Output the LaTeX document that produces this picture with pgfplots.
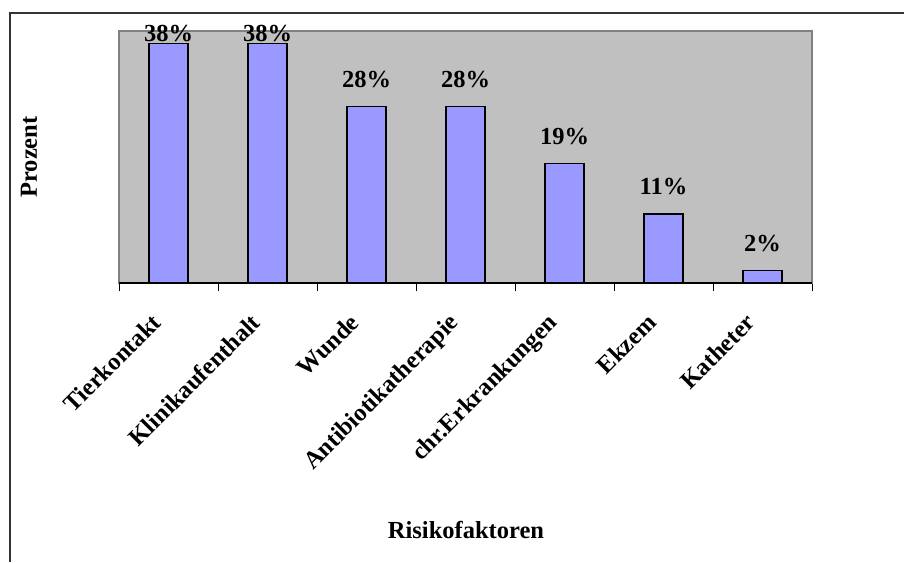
\documentclass[border=0pt]{standalone}
\usepackage{fontspec}
\setmainfont{Liberation Serif}
\usepackage{pgfplots}
\pgfplotsset{compat=1.18}
\definecolor{plotgray}{HTML}{C0C0C0}
\definecolor{bordergray}{HTML}{808080}
\definecolor{barblue}{HTML}{9999FF}
\newcommand{\chartfont}{\fontsize{24.5}{29}\selectfont\bfseries}

\begin{document}
\begin{tikzpicture}[x=1pt,y=1pt]
\useasboundingbox (0,0) rectangle (904,562);
\draw[line width=1.5pt, black!80] (10,0) -- (10,549) -- (904,549);
\begin{axis}[
  at={(119pt,279pt)}, anchor=south west,
  scale only axis, width=693pt, height=252pt,
  xmin=-0.5, xmax=6.5, ymin=0, ymax=40,
  axis background/.style={fill=plotgray},
  axis line style={draw=bordergray, line width=1.5pt},
  ytick=\empty,
  xtick={0,...,6},
  xticklabels={Tierkontakt,Klinikaufenthalt,Wunde,Antibiotikatherapie,chr.Erkrankungen,Ekzem,Katheter},
  minor xtick={-0.5,0.5,...,6.5},
  xtick pos=bottom, tick align=outside,
  major tick length=0pt, minor tick length=8pt,
  minor tick style={black, line width=1pt},
  xticklabel style={font=\chartfont, anchor=north east, inner sep=0pt, xshift=-18pt, yshift=-29pt, rotate=45},
  ybar, bar width=38.5pt,
  /pgf/number format/assume math mode=true,
  nodes near coords={\pgfmathprintnumber{\pgfplotspointmeta}\%},
  every node near coord/.append style={font=\chartfont, anchor=base, inner sep=0pt, text=black},
  clip=false,
]
\addplot[ybar, bar shift=0pt, fill=barblue, draw=black, line width=1.6pt,
  every node near coord/.append style={yshift=2pt}]
  coordinates {(0,38) (1,38)};
\addplot[ybar, bar shift=0pt, fill=barblue, draw=black, line width=1.6pt,
  every node near coord/.append style={yshift=19pt}]
  coordinates {(2,28) (3,28) (4,19) (5,11) (6,2)};
\draw[black, line width=1.5pt] (rel axis cs:0,0) -- (rel axis cs:1,0);
\end{axis}
\node[font=\chartfont, rotate=90] at (29,405) {Prozent};
\node[font=\chartfont] at (466,32) {Risikofaktoren};
\end{tikzpicture}
\end{document}
